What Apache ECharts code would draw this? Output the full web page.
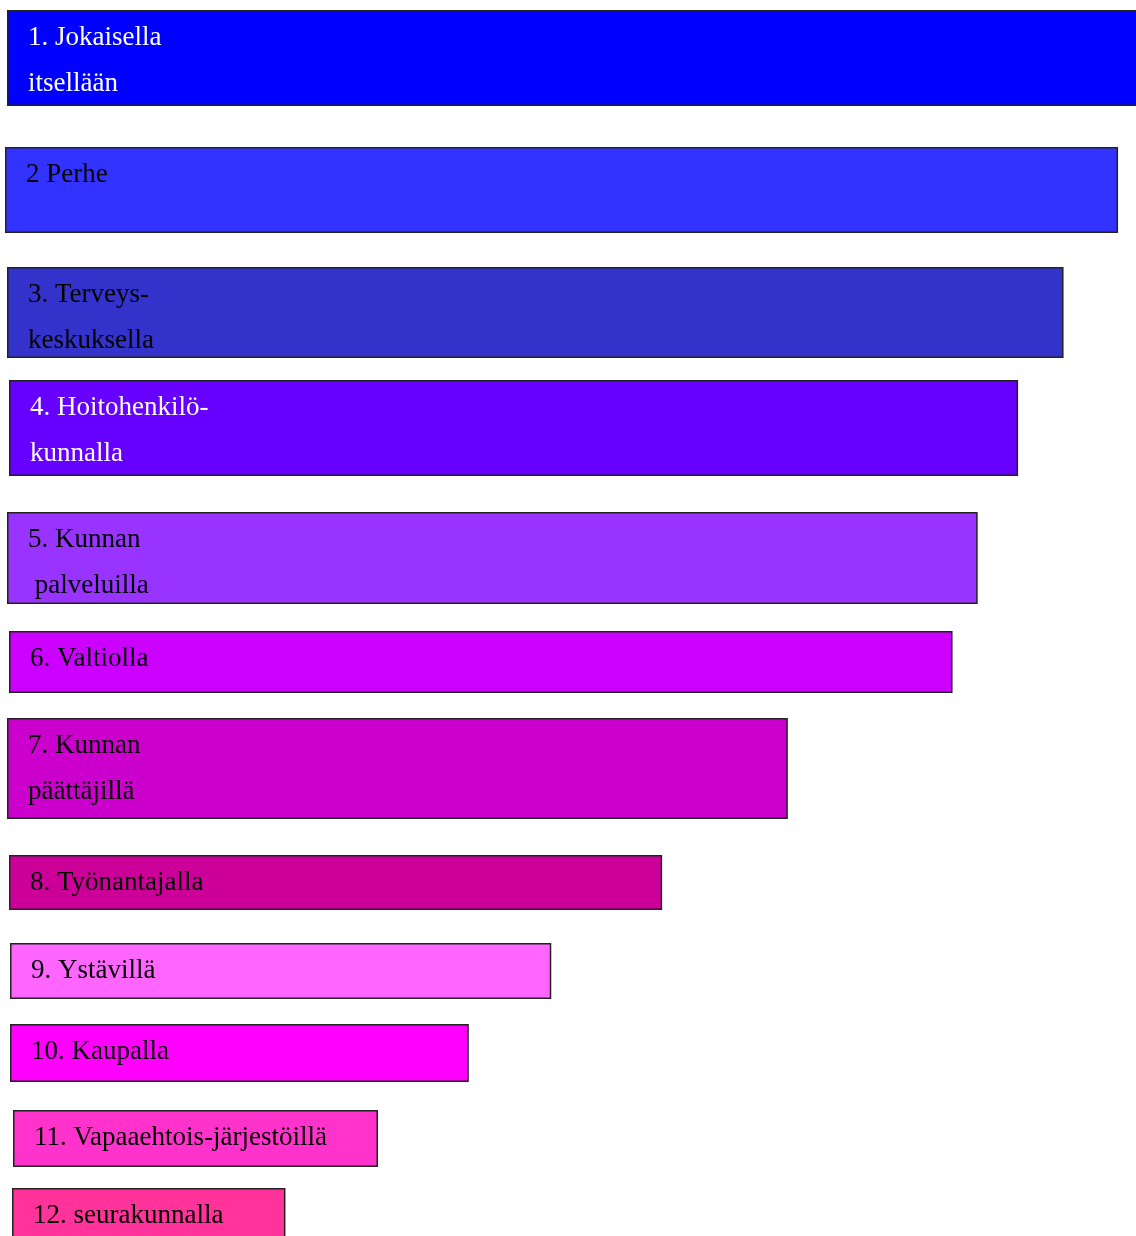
<!DOCTYPE html>
<html>
<head>
<meta charset="utf-8">
<title>Kenellä on vastuu?</title>
<script src="https://cdn.jsdelivr.net/npm/echarts@6/dist/echarts.min.js"></script>
<style>
  html, body { margin: 0; padding: 0; background: #ffffff; }
  #chart { width: 1136px; height: 1236px; }
</style>
</head>
<body>
<div id="chart"></div>
<script>
// Categories (label text shown inside each bar)
const CATEGORIES = [
  '1. Jokaisella\nitsellään',
  '2 Perhe',
  '3. Terveys-\nkeskuksella',
  '4. Hoitohenkilö-\nkunnalla',
  '5. Kunnan\n palveluilla',
  '6. Valtiolla',
  '7. Kunnan\npäättäjillä',
  '8. Työnantajalla',
  '9. Ystävillä',
  '10. Kaupalla',
  '11. Vapaaehtois-järjestöillä',
  '12. seurakunnalla'
];

// Bar lengths on a 0–100 scale
const VALUES = [100.5, 98.5, 93.5, 89.3, 85.9, 83.5, 69.1, 57.8, 47.9, 40.6, 32.3, 24.2];

// Fill colour and text colour of each bar
const BAR_COLORS = ['#0000FF', '#3333FF', '#3333CC', '#6600FF', '#9933FF', '#CC00FF',
                    '#CC00CC', '#CC0099', '#FF66FF', '#FF00FF', '#FF33CC', '#FF3399'];
const TEXT_COLORS = ['#FFFFFF', '#000000', '#000000', '#FFFFFF', '#000000', '#000000',
                     '#000000', '#000000', '#000000', '#000000', '#000000', '#000000'];

// Row boxes: [left, top, height] in pixels for each bar's own grid
const ROW_LAYOUT = [
  [7, 10, 96], [5, 147, 86], [7, 267, 91], [9, 380, 96],
  [7, 512, 92], [9, 631, 62], [7, 718, 101], [9, 855, 55],
  [10, 943, 56], [10, 1024, 58], [13, 1110, 57], [12, 1188, 57]
];
const AXIS_MAX = 105;
const PX_PER_UNIT = 11.3; // same horizontal scale on every row

const grids = [], xAxes = [], yAxes = [], series = [];
CATEGORIES.forEach((name, i) => {
  const [left, top, height] = ROW_LAYOUT[i];
  grids.push({
    left: left, top: top, width: AXIS_MAX * PX_PER_UNIT, height: height,
    containLabel: false, outerBoundsMode: 'none'
  });
  xAxes.push({ gridIndex: i, type: 'value', min: 0, max: AXIS_MAX, show: false });
  yAxes.push({ gridIndex: i, type: 'category', data: [name], show: false });
  series.push({
    type: 'bar',
    xAxisIndex: i,
    yAxisIndex: i,
    barWidth: '100%',
    silent: true,
    data: [VALUES[i]],
    itemStyle: {
      color: BAR_COLORS[i],
      borderColor: '#222222',
      borderWidth: 1.5
    },
    label: {
      show: true,
      position: [21, 5],
      align: 'left',
      verticalAlign: 'top',
      formatter: () => name,
      color: TEXT_COLORS[i],
      fontFamily: '"Liberation Serif", "Times New Roman", serif',
      fontSize: 27,
      lineHeight: 46
    }
  });
});

const chart = echarts.init(document.getElementById('chart'), null, { renderer: 'canvas' });
chart.setOption({
  animation: false,
  backgroundColor: '#ffffff',
  grid: grids,
  xAxis: xAxes,
  yAxis: yAxes,
  series: series
});
</script>
</body>
</html>
